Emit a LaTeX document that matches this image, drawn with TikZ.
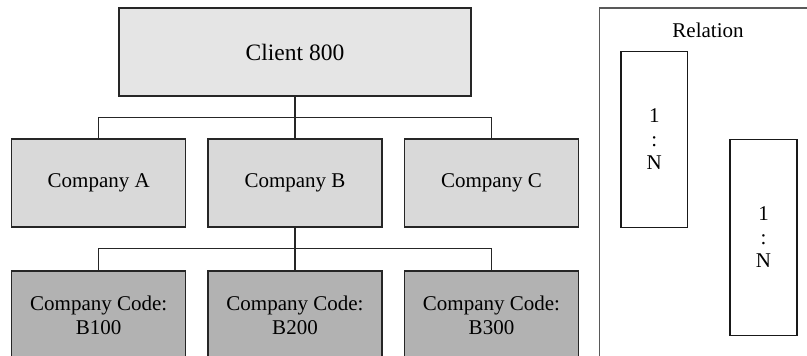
\documentclass[tikz,border=0pt]{standalone}
\usepackage{fontspec}
\setmainfont{Liberation Serif}
\begin{document}
\begin{tikzpicture}[x=1pt,y=-1pt,
  box/.style={draw=black!85, line width=1.4pt, minimum height=88pt, align=center,
    font=\fontsize{21}{24}\selectfont, inner sep=0pt},
  clientbox/.style={box, fill=black!10, minimum width=352pt, font=\fontsize{23.5}{28}\selectfont},
  companybox/.style={box, fill=black!15, minimum width=174pt},
  codebox/.style={box, fill=black!30, minimum width=174pt},
  relbox/.style={draw=black!90, line width=1.4pt, fill=white, align=center,
    font=\fontsize{21}{23.5}\selectfont, inner sep=0pt},
  link/.style={draw=black!85, line width=1.4pt}]
\useasboundingbox (0,0) rectangle (807,356);

% organisational hierarchy
\node[clientbox] (client) at (295,52) {Client 800};
\node[companybox] (ca) at (98.7,183) {Company A};
\node[companybox] (cb) at (295,183) {Company B};
\node[companybox] (cc) at (491.5,183) {Company C};
\node[codebox] (b100) at (98.7,315) {Company Code:\\B100};
\node[codebox] (b200) at (295,315) {Company Code:\\B200};
\node[codebox] (b300) at (491.5,315) {Company Code:\\B300};

\draw[link] (ca.north) -- ++(0,-21) -| (cc.north);
\draw[link] (client.south) -- (cb.north);
\draw[link] (b100.north) -- ++(0,-21.7) -| (b300.north);
\draw[link] (cb.south) -- (b200.north);

% relation panel
\draw[draw=black!65, line width=1.5pt] (599.3,8) rectangle (820,370);
\node[font=\fontsize{21}{24}\selectfont] (reltitle) at (708,30) {Relation};
\node[relbox, minimum width=66.7pt, minimum height=175.6pt] (r1) at (654.3,139.5) {1\\:\\N};
\node[relbox, minimum width=67pt, minimum height=196.4pt] (r2) at (763.5,237.5) {1\\:\\N};
\end{tikzpicture}
\end{document}
